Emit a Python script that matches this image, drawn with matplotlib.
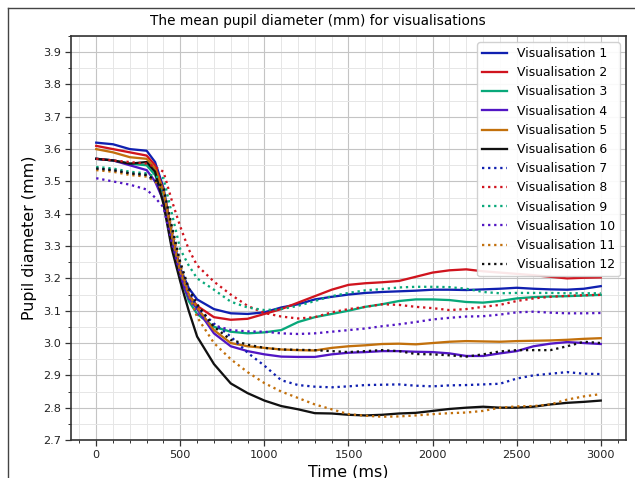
import matplotlib.pyplot as plt
from matplotlib.lines import Line2D
from matplotlib.ticker import MultipleLocator

# Time axis (ms)
time_ms = [0, 100, 200, 300, 350, 400, 450, 500, 550, 600, 700, 800, 900, 1000,
           1100, 1200, 1300, 1400, 1500, 1600, 1700, 1800, 1900, 2000, 2100,
           2200, 2300, 2400, 2500, 2600, 2700, 2800, 2900, 3000]

# Mean pupil diameter (mm) per visualisation
vis1 = [3.62, 3.615, 3.60, 3.595, 3.56, 3.48, 3.34, 3.23, 3.17, 3.135, 3.105, 3.092, 3.09, 3.095,
        3.11, 3.12, 3.135, 3.143, 3.15, 3.155, 3.158, 3.16, 3.162, 3.165, 3.165,
        3.164, 3.166, 3.168, 3.171, 3.168, 3.166, 3.165, 3.168, 3.176]
vis2 = [3.61, 3.60, 3.59, 3.58, 3.55, 3.47, 3.33, 3.22, 3.15, 3.115, 3.08, 3.072, 3.075, 3.09,
        3.105, 3.125, 3.145, 3.165, 3.18, 3.185, 3.188, 3.192, 3.205, 3.218, 3.225,
        3.228, 3.222, 3.218, 3.214, 3.21, 3.205, 3.20, 3.202, 3.203]
vis3 = [3.57, 3.565, 3.555, 3.55, 3.52, 3.46, 3.32, 3.21, 3.13, 3.09, 3.05, 3.035, 3.03, 3.033,
        3.04, 3.065, 3.08, 3.09, 3.10, 3.112, 3.12, 3.13, 3.135, 3.135, 3.133,
        3.127, 3.125, 3.13, 3.138, 3.142, 3.144, 3.145, 3.147, 3.149]
vis4 = [3.57, 3.565, 3.55, 3.535, 3.50, 3.44, 3.30, 3.20, 3.14, 3.105, 3.03, 2.99, 2.975, 2.965,
        2.958, 2.957, 2.957, 2.965, 2.97, 2.972, 2.975, 2.975, 2.973, 2.972, 2.968,
        2.96, 2.96, 2.968, 2.975, 2.99, 2.998, 3.003, 3.0, 2.997]
vis5 = [3.60, 3.59, 3.575, 3.57, 3.54, 3.47, 3.33, 3.22, 3.15, 3.11, 3.04, 3.0, 2.99, 2.985,
        2.98, 2.978, 2.977, 2.985, 2.99, 2.993, 2.997, 2.998, 2.996, 3.0, 3.004,
        3.006, 3.005, 3.004, 3.006, 3.007, 3.008, 3.01, 3.013, 3.015]
vis6 = [3.57, 3.565, 3.555, 3.56, 3.53, 3.43, 3.29, 3.19, 3.10, 3.02, 2.935, 2.875, 2.845, 2.822,
        2.805, 2.795, 2.783, 2.782, 2.778, 2.776, 2.778, 2.782, 2.784, 2.79, 2.796,
        2.80, 2.803, 2.80, 2.80, 2.803, 2.81, 2.815, 2.818, 2.822]
vis7 = [3.54, 3.535, 3.525, 3.52, 3.50, 3.47, 3.35, 3.24, 3.16, 3.11, 3.06, 3.02, 2.97, 2.93,
        2.885, 2.87, 2.865, 2.863, 2.866, 2.87, 2.871, 2.872, 2.868, 2.866, 2.869,
        2.87, 2.872, 2.874, 2.89, 2.90, 2.905, 2.91, 2.905, 2.904]
vis8 = [3.57, 3.565, 3.56, 3.555, 3.545, 3.53, 3.44, 3.36, 3.29, 3.24, 3.19, 3.15, 3.115, 3.093,
        3.082, 3.076, 3.08, 3.095, 3.105, 3.112, 3.12, 3.118, 3.112, 3.108, 3.102,
        3.105, 3.112, 3.118, 3.13, 3.138, 3.143, 3.146, 3.148, 3.149]
vis9 = [3.545, 3.54, 3.53, 3.525, 3.515, 3.51, 3.40, 3.29, 3.24, 3.20, 3.165, 3.128, 3.11, 3.102,
        3.105, 3.115, 3.13, 3.145, 3.155, 3.163, 3.167, 3.172, 3.174, 3.174, 3.173,
        3.168, 3.158, 3.154, 3.155, 3.155, 3.155, 3.154, 3.154, 3.154]
vis10 = [3.51, 3.50, 3.49, 3.475, 3.45, 3.42, 3.31, 3.21, 3.14, 3.09, 3.055, 3.04, 3.036, 3.035,
         3.03, 3.028, 3.03, 3.035, 3.04, 3.045, 3.052, 3.058, 3.065, 3.073, 3.078,
         3.082, 3.083, 3.088, 3.095, 3.097, 3.094, 3.092, 3.092, 3.093]
vis11 = [3.535, 3.53, 3.52, 3.515, 3.50, 3.47, 3.35, 3.24, 3.15, 3.08, 3.0, 2.95, 2.91, 2.876,
         2.85, 2.83, 2.81, 2.795, 2.78, 2.775, 2.772, 2.773, 2.776, 2.78, 2.783,
         2.785, 2.79, 2.80, 2.804, 2.805, 2.81, 2.825, 2.835, 2.842]
vis12 = [3.54, 3.535, 3.525, 3.52, 3.505, 3.48, 3.36, 3.25, 3.17, 3.12, 3.05, 3.01, 2.995, 2.985,
         2.98, 2.979, 2.978, 2.975, 2.972, 2.975, 2.978, 2.975, 2.966, 2.965, 2.962,
         2.958, 2.965, 2.974, 2.978, 2.978, 2.978, 2.99, 3.004, 3.0]

series = [vis1, vis2, vis3, vis4, vis5, vis6, vis7, vis8, vis9, vis10, vis11, vis12]
labels = ['Visualisation %d' % (i + 1) for i in range(12)]
colors = ['#1020b0', '#d0141e', '#08a87a', '#5216c4', '#c2700c', '#111111']

fig = plt.figure(figsize=(6.35, 4.78), dpi=100)
ax = fig.add_axes([0.1118, 0.0795, 0.874, 0.8452])

for i, (vals, label) in enumerate(zip(series, labels)):
    style = '-' if i < 6 else ':'
    ax.plot(time_ms, vals, linestyle=style, color=colors[i % 6], linewidth=1.65, label=label)

ax.set_xlim(-150, 3150)
ax.set_ylim(2.7, 3.95)
ax.xaxis.set_major_locator(MultipleLocator(500))
ax.xaxis.set_minor_locator(MultipleLocator(100))
ax.yaxis.set_major_locator(MultipleLocator(0.1))
ax.yaxis.set_minor_locator(MultipleLocator(0.05))
ax.grid(True, which='major', color='#c4c4c4', linewidth=0.8)
ax.grid(True, which='minor', color='#e6e6e6', linewidth=0.7)
ax.set_axisbelow(True)
ax.tick_params(which='major', labelsize=8.1, length=4, width=0.9, colors='#333333', labelcolor='#222222')
ax.tick_params(which='minor', length=2.5, width=0.7, colors='#333333')
for sp in ax.spines.values():
    sp.set_linewidth(1.2)
    sp.set_color('#333333')

# title sits centred on the figure, not on the axes
fig.text(318 / 635, 1 - 21 / 478, 'The mean pupil diameter (mm) for visualisations',
         fontsize=9.8, ha='center', va='center')
ax.set_xlabel('Time (ms)', fontsize=11.4, labelpad=3)
ax.set_ylabel('Pupil diameter (mm)', fontsize=11.4)
ax.legend(loc='upper right', fontsize=8.9, framealpha=0.9)

# screenshot frame
fig.add_artist(Line2D([8 / 635, 8 / 635], [0, 1 - 8 / 478], transform=fig.transFigure, color='#444444', linewidth=1))
fig.add_artist(Line2D([8 / 635, 1], [1 - 8 / 478, 1 - 8 / 478], transform=fig.transFigure, color='#444444', linewidth=1))

fig.savefig('out.png', dpi=100)
